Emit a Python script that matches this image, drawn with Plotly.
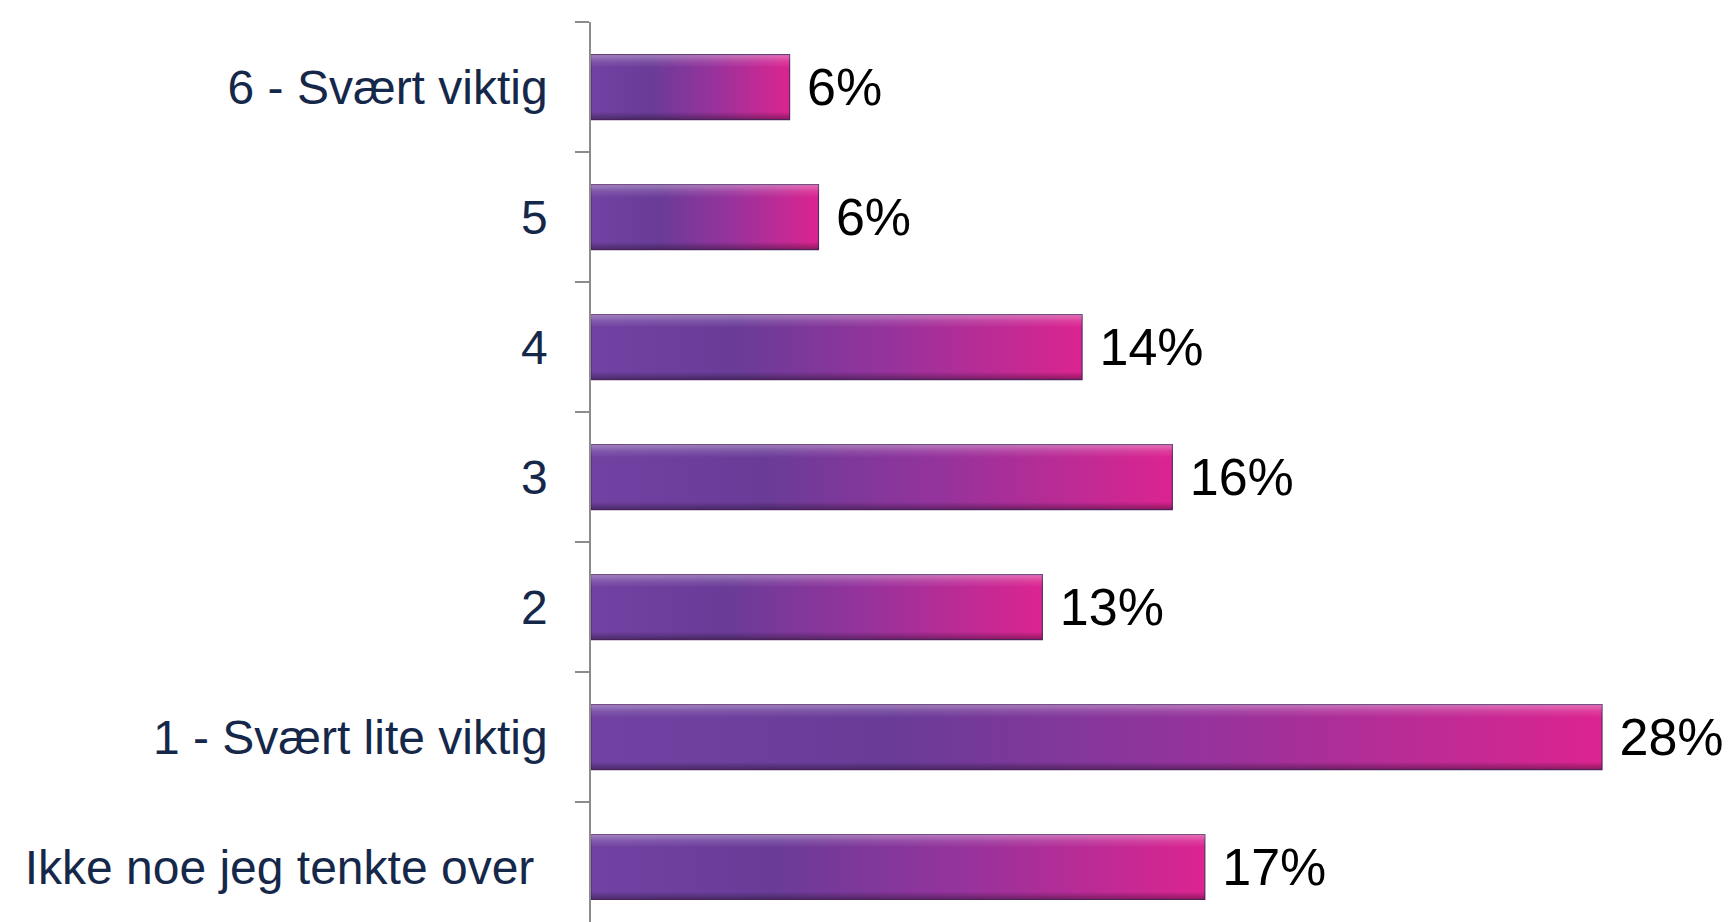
import plotly.graph_objects as go

# categories listed bottom -> top (plotly draws category 0 at the bottom)
categories = [
    "Ikke noe jeg tenkte over\u00a0",
    "1 - Svært lite viktig",
    "2",
    "3",
    "4",
    "5",
    "6 - Svært viktig",
]
shares = [17.0, 28.0, 12.5, 16.1, 13.6, 6.3, 5.5]
value_labels = ["17%", "28%", "13%", "16%", "14%", "6%", "6%"]

LABEL_COLOR = "#16284A"
AXIS_GRAY = "#8C8C8C"

fig = go.Figure()
fig.add_trace(go.Bar(
    x=shares,
    y=categories,
    orientation="h",
    width=0.5,
    marker=dict(color="#9A3098", line=dict(color="#5A2A6E", width=1.2)),
    text=[" " + t for t in value_labels],
    textposition="outside",
    constraintext="none",
    cliponaxis=False,
    textfont=dict(family="Liberation Sans, Arial, sans-serif", size=52, color="#000000"),
    hoverinfo="skip",
))

# full window figure; the body margin is removed in the post script below
fig.update_layout(
    width=1732,
    height=922,
    margin=dict(l=591, r=0, t=22, b=0),
    paper_bgcolor="white",
    plot_bgcolor="white",
    showlegend=False,
    font=dict(family="Liberation Sans, Arial, sans-serif"),
)
fig.update_xaxes(visible=False, range=[0, 31.6], fixedrange=True)
fig.update_yaxes(
    type="category",
    range=[-0.423, 6.501],
    showline=True,
    linecolor=AXIS_GRAY,
    linewidth=1.5,
    ticks="outside",
    tickson="boundaries",
    ticklen=14,
    tickwidth=1.5,
    tickcolor=AXIS_GRAY,
    ticklabelstandoff=32,
    tickfont=dict(size=48, color=LABEL_COLOR),
    showgrid=False,
    zeroline=False,
    fixedrange=True,
)

# horizontal purple -> magenta gradient on each bar (plotly has no gradient fill for bars)
post = """
document.documentElement.style.margin = '0';
document.body.style.margin = '0';
document.body.style.overflow = 'hidden';
var svg = document.querySelector('.main-svg');
var ns = 'http://www.w3.org/2000/svg';
var defs = svg.querySelector('defs') || svg.insertBefore(document.createElementNS(ns, 'defs'), svg.firstChild);
function grad(id, x2, y2, stops) {
  var g = document.createElementNS(ns, 'linearGradient');
  g.setAttribute('id', id);
  g.setAttribute('x1', '0'); g.setAttribute('y1', '0');
  g.setAttribute('x2', x2); g.setAttribute('y2', y2);
  stops.forEach(function(s) {
    var st = document.createElementNS(ns, 'stop');
    st.setAttribute('offset', s[0]);
    st.setAttribute('stop-color', s[1]);
    if (s.length > 2) st.setAttribute('stop-opacity', s[2]);
    g.appendChild(st);
  });
  defs.appendChild(g);
}
grad('barGrad', '1', '0', [['0', '#7142A2'], ['0.3', '#6A3C98'], ['0.6', '#95339C'], ['1', '#DC2490']]);
grad('barShade', '0', '1', [['0', '#ffffff', '0.35'], ['0.1', '#ffffff', '0.12'], ['0.2', '#ffffff', '0'],
                            ['0.88', '#000000', '0'], ['1', '#000000', '0.35']]);
document.querySelectorAll('.barlayer .point path').forEach(function(p) {
  p.style.fill = 'url(#barGrad)';
  p.style.fillOpacity = '1';
  var c = p.cloneNode(true);
  c.style.fill = 'url(#barShade)';
  c.style.stroke = 'none';
  p.parentNode.insertBefore(c, p.nextSibling);
});
"""

fig.write_html("out.html", post_script=post, config={"displayModeBar": False})
